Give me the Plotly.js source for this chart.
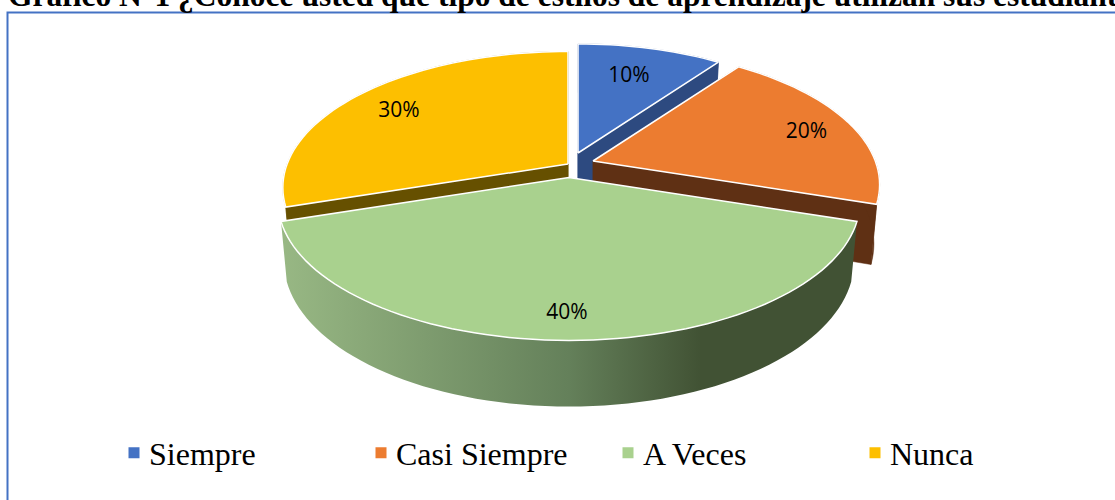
<!DOCTYPE html>
<html>
<head>
<meta charset="utf-8">
<script src="https://cdn.plot.ly/plotly-3.0.1.min.js"></script>
<style>html,body{margin:0;padding:0;background:#fff;overflow:hidden}</style>
</head>
<body>
<div id="chart" style="width:1115px;height:500px"></div>
<script>
// Chart values
var categories = ['Siempre', 'Casi Siempre', 'A Veces', 'Nunca'];
var percentages = [10, 20, 40, 30];
var titleText = 'Gráfico N°1 ¿Conoce usted que tipo de estilos de aprendizaje utilizan sus estudiantes?';

// Styles
var topColors = ['#4472c4', '#ec7c30', '#a9d18e', '#fdbf00'];
var sideColors = ['#2d4a80', '#5f3014', null, '#665000'];
var greenSideScale = [[0, '#98b884'], [0.5, '#64805a'], [0.73, '#415234'], [1, '#415234']];

// 3D view: apex of each exploded slice, its scale, and where its label sits
var apexX = [578, 593, 569, 568];
var apexY = [153, 161, 177.5, 164];
var sliceScale = [0.95, 0.985, 1, 0.98];
var labelRadius = [0.73, 0.83, 0.85, 0.81];
var labelNudgeX = [-4, 0, -2, 1];
var labelNudgeY = [3, 4, 2, 6];
var drawOrder = [3, 0, 1, 2];
var RADIUS = 286.6, TILT = 0.47, PERSP = 0.173, WALL_SHRINK = 0.98;

function project(i, deg, frac, lower) {
  var a = deg * Math.PI / 180, u = Math.sin(a) * frac, v = Math.cos(a) * frac;
  var s = sliceScale[i] / (1 + PERSP * v);
  var h = lower ? 57.5 - 8.7 * v : 0;
  var k = lower ? WALL_SHRINK : 1;
  return [apexX[i] + RADIUS * u * s * k, apexY[i] - RADIUS * TILT * v * s + h];
}
function arc(i, start, end, lower) {
  var pts = [];
  var n = Math.max(4, Math.round((end - start) / 2));
  for (var j = 0; j <= n; j++) pts.push(project(i, start + (end - start) * j / n, 1, lower));
  return pts;
}
function xs(p) { return p.map(function (q) { return q[0]; }); }
function ys(p) { return p.map(function (q) { return q[1]; }); }
function wall(pts, color) {
  data.push({type:'scatter', mode:'lines', x:xs(pts), y:ys(pts), fill:'toself', fillcolor:color,
    line:{color:color, width:0.5, simplify:false}, hoverinfo:'skip', showlegend:false});
}

var starts = [], acc = 0;
percentages.forEach(function (p) { starts.push(acc); acc += p * 3.6; });

var data = [];
drawOrder.forEach(function (i) {
  var s = starts[i], e = s + percentages[i] * 3.6;
  var at = arc(i, s, e, false), ab = arc(i, s, e, true);
  var ring = at.concat(ab.slice().reverse());
  ring.push(at[0]);
  if (sideColors[i]) {
    var a0 = project(i, 0, 0, false), b0 = project(i, 0, 0, true);
    var last = at.length - 1;
    wall([a0, at[0], ab[0], b0, a0], sideColors[i]);
    wall([a0, at[last], ab[last], b0, a0], sideColors[i]);
    wall(ring, sideColors[i]);
  } else {
    data.push({type:'scatter', mode:'lines', x:xs(ring), y:ys(ring),
      fill:'toself', fillgradient:{type:'horizontal', colorscale:greenSideScale},
      line:{color:'rgba(0,0,0,0)', width:0, simplify:false}, hoverinfo:'skip', showlegend:false});
  }
  var face = [project(i, 0, 0, false)].concat(at);
  face.push(face[0]);
  data.push({type:'scatter', mode:'lines', x:xs(face), y:ys(face),
    fill:'toself', fillcolor:topColors[i], line:{color:'#ffffff', width:1.5, simplify:false}, name:categories[i],
    hoverinfo:'name', showlegend:false});
});

// Percent labels, placed by the same projection
var labelPts = percentages.map(function (p, i) {
  var q = project(i, starts[i] + p * 1.8, labelRadius[i], false);
  return [q[0] + labelNudgeX[i], q[1] + labelNudgeY[i]];
});
data.push({type:'scatter', mode:'text', x:xs(labelPts), y:ys(labelPts),
  text:percentages.map(function(p){return p + '%';}), textposition:'middle center',
  textfont:{family:'Open Sans', size:21, color:'#000000'}, hoverinfo:'skip', showlegend:false});

// Legend entries
categories.forEach(function (c, i) {
  data.push({type:'scatter', mode:'markers', x:[null], y:[null], name:c,
    marker:{symbol:'square', size:11, color:topColors[i], line:{width:0}}, hoverinfo:'skip'});
});

var layout = {
  width:1115, height:500, margin:{l:0, r:0, t:0, b:0},
  paper_bgcolor:'#ffffff', plot_bgcolor:'#ffffff',
  title:{text:'<b>' + titleText + '</b>', x:8/1115, xanchor:'left', y:1-6/500, yanchor:'bottom',
    font:{family:'Liberation Serif', size:31.5, color:'#000000'}, pad:{t:0, b:0, l:0, r:0}},
  xaxis:{range:[0,1115], visible:false, fixedrange:true},
  yaxis:{range:[500,0], visible:false, fixedrange:true},
  shapes:[{type:'path', path:'M 7.5 500 L 7.5 12.5 L 1115 12.5', xref:'x', yref:'y', layer:'below',
    line:{color:'#4472c4', width:2}}],
  legend:{orientation:'h', x:114/1115, xanchor:'left', y:1-453/500, yanchor:'middle',
    entrywidth:202, entrywidthmode:'pixels', traceorder:'normal', tracegroupgap:0, itemclick:false, itemdoubleclick:false,
    font:{family:'Liberation Serif', size:32, color:'#000000'}, bgcolor:'rgba(0,0,0,0)'},
  showlegend:true
};
Plotly.newPlot('chart', data, layout, {displayModeBar:false, staticPlot:true}).then(function (gd) {
  // bring legend labels closer to their swatches, as in the reference
  gd.querySelectorAll('.legendtext').forEach(function (t) { t.setAttribute('x', 35); });
});
</script>
</body>
</html>
